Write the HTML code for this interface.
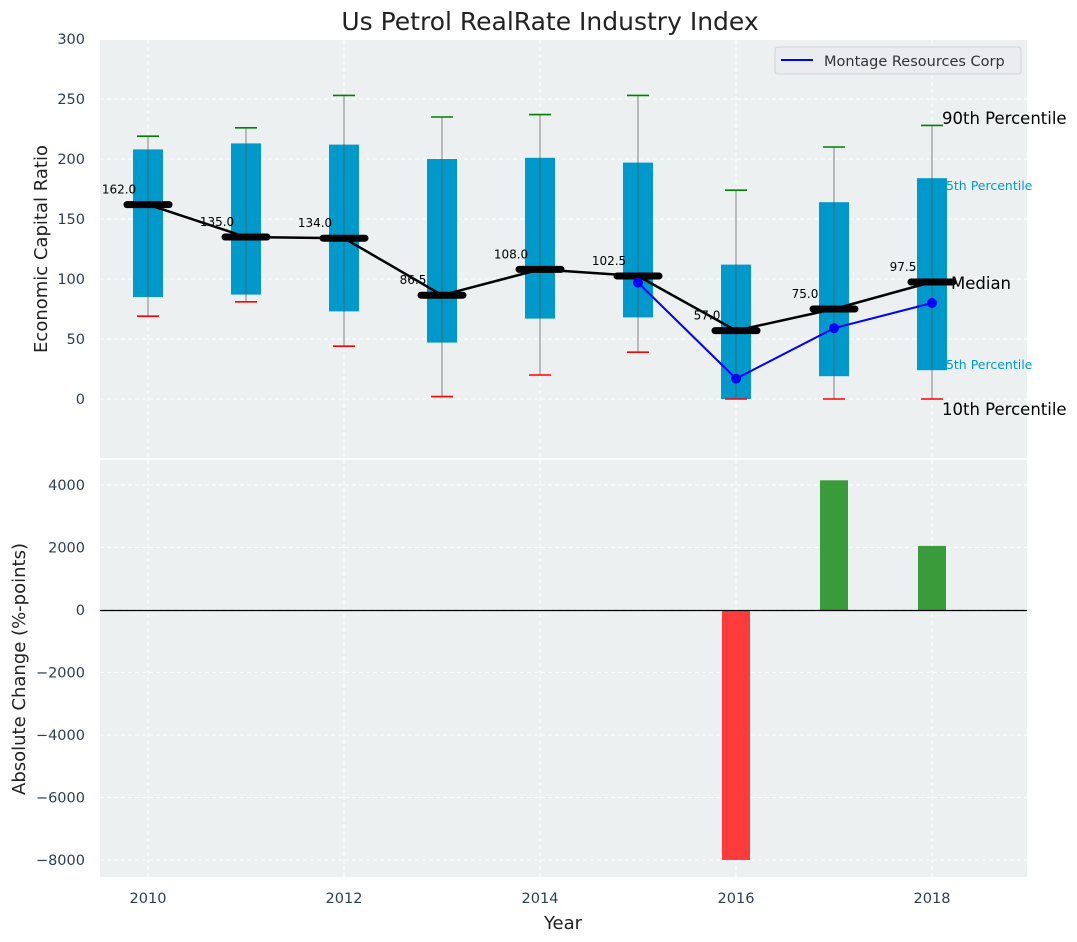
<!DOCTYPE html>
<html><head><meta charset="utf-8">
<style>
html,body{margin:0;padding:0;background:#fff;}
svg{display:block;font-family:"DejaVu Sans","Liberation Sans",sans-serif;}
</style></head>
<body>
<svg id="chart" width="1077" height="942" xmlns="http://www.w3.org/2000/svg">
<text x="550" y="30" text-anchor="middle" font-size="25" fill="#222">Us Petrol RealRate Industry Index</text>
<rect x="100" y="40" width="927" height="418" fill="#ecf0f1"/>
<rect x="100" y="460" width="927" height="417" fill="#ecf0f1"/>
<g id="topPanel"></g>
<g id="bottomPanel"></g>
<text x="563" y="929" text-anchor="middle" font-size="18" fill="#222">Year</text>
<text transform="translate(47,249) rotate(-90)" text-anchor="middle" font-size="18" fill="#222">Economic Capital Ratio</text>
<text transform="translate(25,669) rotate(-90)" text-anchor="middle" font-size="18" fill="#222">Absolute Change (%-points)</text>
<g>
<rect x="775" y="47" width="246" height="27" rx="3" fill="#eaecef" stroke="#d0d3d6"/>
<line x1="781" y1="60" x2="813" y2="60" stroke="#0000ff" stroke-width="2"/>
<text x="824" y="66" font-size="14.5" fill="#333">Montage Resources Corp</text>
</g>
</svg>
<script>
const years=[2010,2011,2012,2013,2014,2015,2016,2017,2018];
const p10=[69,81,44,2,20,39,0,0,0];
const p25=[85,87,73,47,67,68,0,19,24];
const medians=[162,135,134,86.5,108,102.5,57,75,97.5];
const p75=[208,213,212,200,201,197,112,164,184];
const p90=[219,226,253,235,237,253,174,210,228];
const companyYears=[2015,2016,2017,2018];
const companyValues=[97,17,59,80];
const changeYears=[2016,2017,2018];
const changeValues=[-8000,4150,2050];
const topTicks=[0,50,100,150,200,250,300];
const bottomTicks=[-8000,-6000,-4000,-2000,0,2000,4000];
const xTicks=[2010,2012,2014,2016,2018];

const NS="http://www.w3.org/2000/svg";
const X=v=>148+(v-2010)*98;
const YT=v=>399-v*1.2;
const YB=v=>610-v*0.03125;
function mk(parent,tag,attrs,text){const e=document.createElementNS(NS,tag);for(const k in attrs)e.setAttribute(k,attrs[k]);if(text!==undefined)e.textContent=text;parent.appendChild(e);return e;}
const tp=document.getElementById('topPanel'),bp=document.getElementById('bottomPanel'),svgRoot=document.getElementById('chart');

xTicks.forEach(t=>{
 let g=mk(tp,'line',{x1:X(t),x2:X(t),y1:40,y2:458,stroke:'#fff','stroke-dasharray':'4,3'});
 
 
 g=mk(bp,'line',{x1:X(t),x2:X(t),y1:460,y2:877,stroke:'#fff','stroke-dasharray':'4,3'});
 
 
 const l=mk(bp,'text',{x:X(t),y:903,'text-anchor':'middle','font-size':14.5,fill:'#2c3e50'},String(t));
 
 
});
topTicks.forEach(t=>{
 const g=mk(tp,'line',{x1:100,x2:1027,y1:YT(t),y2:YT(t),stroke:'#fff','stroke-dasharray':'4,3'});
 
 
 const l=mk(tp,'text',{x:85,y:YT(t)+5,'text-anchor':'end','font-size':14.5,fill:'#2c3e50'},String(t));
 
 
});
bottomTicks.forEach(t=>{
 const g=mk(bp,'line',{x1:100,x2:1027,y1:YB(t),y2:YB(t),stroke:'#fff','stroke-dasharray':'4,3'});
 
 
 const l=mk(bp,'text',{x:85,y:YB(t)+5,'text-anchor':'end','font-size':14.5,fill:'#2c3e50'},String(t).replace('-','\u2212'));
 
 
});

let a=mk(tp,'text',{x:938,y:190,'font-size':12.5,fill:'#0099cc'},'75th Percentile');


a=mk(tp,'text',{x:938,y:369,'font-size':12.5,fill:'#0099cc'},'25th Percentile');



years.forEach((yr,i)=>{
 const x=X(yr);
 const b=mk(tp,'rect',{x:x-15,y:YT(p75[i]),width:30,height:YT(p25[i])-YT(p75[i]),fill:'#0099cc'});
 
 
 const w=mk(tp,'line',{x1:x,x2:x,y1:YT(p90[i]),y2:YT(p10[i]),stroke:'#555','stroke-opacity':0.7,'stroke-width':1});
 
 
 const c1=mk(tp,'line',{x1:x-11,x2:x+11,y1:YT(p90[i]),y2:YT(p90[i]),stroke:'#008000','stroke-width':1.6});
 
 
 const c2=mk(tp,'line',{x1:x-11,x2:x+11,y1:YT(p10[i]),y2:YT(p10[i]),stroke:'#ff0000','stroke-width':1.6});
 
 
});
const ml=mk(tp,'polyline',{points:years.map((y,i)=>X(y)+','+YT(medians[i])).join(' '),fill:'none',stroke:'#000','stroke-width':2.5});


years.forEach((yr,i)=>{
 const x=X(yr),y=YT(medians[i]);
 const m=mk(tp,'line',{x1:x-21,x2:x+21,y1:y,y2:y,stroke:'#000','stroke-width':7,'stroke-linecap':'round'});
 
 
 const t=mk(tp,'text',{x:x-29,y:y-11,'text-anchor':'middle','font-size':12,fill:'#000'},medians[i].toFixed(1));
 
 
});
const cl=mk(tp,'polyline',{points:companyYears.map((y,i)=>X(y)+','+YT(companyValues[i])).join(' '),fill:'none',stroke:'#0000ff','stroke-width':2});


companyYears.forEach((yr,i)=>{
 const p=mk(tp,'circle',{cx:X(yr),cy:YT(companyValues[i]),r:5,fill:'#0000ff'});
 
 
});
changeYears.forEach((yr,i)=>{
 const v=changeValues[i];
 const y0=YB(Math.max(v,0)),y1=YB(Math.min(v,0));
 const r=mk(bp,'rect',{x:X(yr)-14,y:y0,width:28,height:y1-y0,fill:v<0?'#ff3b3b':'#3a9b3a'});
 
 
});
const z=mk(bp,'line',{x1:100,x2:1027,y1:YB(0)+0.5,y2:YB(0)+0.5,stroke:'#000','stroke-width':1.2});



let an=mk(svgRoot,'text',{x:942,y:124,'font-size':16.5,fill:'#000'},'90th Percentile');


an=mk(svgRoot,'text',{x:951,y:289,'font-size':16.5,fill:'#000'},'Median');


an=mk(svgRoot,'text',{x:942,y:415,'font-size':16.5,fill:'#000'},'10th Percentile');


</script>
</body></html>
